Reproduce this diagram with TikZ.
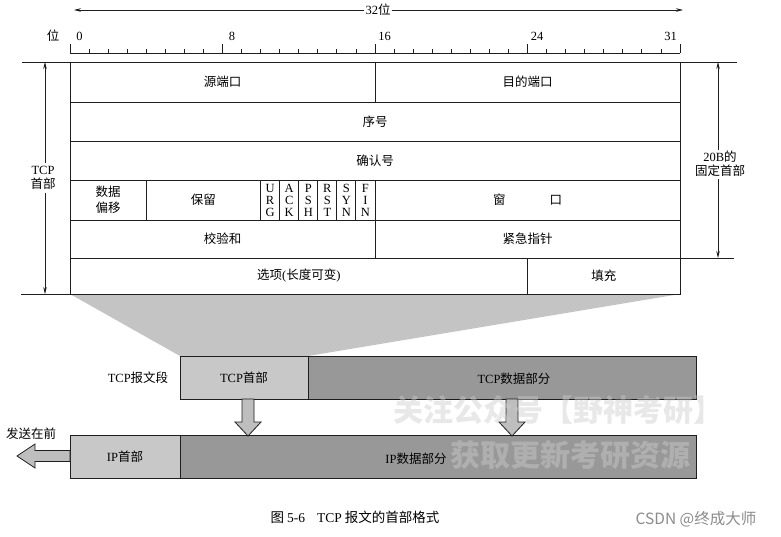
\documentclass[tikz,border=0pt]{standalone}
\usepackage{fontspec}
\setmainfont{Liberation Serif}
\newfontfamily\cjk{Noto Sans CJK SC}
\newfontfamily\lat{Liberation Serif}
\usetikzlibrary{arrows.meta,calc,backgrounds}
\definecolor{linec}{RGB}{30,30,30}
\definecolor{trapc}{RGB}{196,196,196}
\definecolor{hdrc}{RGB}{200,200,200}
\definecolor{datac}{RGB}{152,152,152}
\definecolor{arrc}{RGB}{190,190,190}
\definecolor{wmc}{RGB}{205,205,205}
\definecolor{csdnc}{RGB}{140,140,140}
\tikzset{
  field/.style={draw=linec, line width=1pt, inner sep=0pt, outer sep=0pt, anchor=north west,
    font=\cjk\fontsize{12.5}{14}\selectfont, fill=white},
  flagbox/.style={field, font=\lat\fontsize{12.5}{12}\selectfont, align=center},
  txt/.style={inner sep=1pt, font=\cjk\fontsize{12.5}{14}\selectfont, align=center},
  rulelbl/.style={inner sep=0pt, font=\lat\fontsize{12.5}{14}\selectfont},
  thinl/.style={draw=linec, line width=0.8pt},
  dimarrow/.style={draw=linec, line width=0.7pt, -{Stealth[length=7pt,width=3.5pt]}},
  bar/.style={draw=linec, line width=1pt, inner sep=0pt, outer sep=0pt, anchor=north west},
  blk/.style={draw=linec, line width=0.8pt, fill=arrc},
  wm/.style={inner sep=0pt, font=\cjk\bfseries\fontsize{30}{32}\selectfont, text=wmc, text opacity=0.45},
  downblk/.pic={\filldraw[blk] (-6,0) -- (-6,23) -- (-13,23) -- (0,37) -- (13,23) -- (6,23) -- (6,0) -- cycle;}
}
\begin{document}
\begin{tikzpicture}[x=1pt,y=-1pt]
\useasboundingbox (0,0) rectangle (781,536);

% top 32-bit arrow
\node[txt] (w32) at (378,10) {{\lat 32}位};
\coordinate (arrL) at (74,10);
\coordinate (arrR) at (683,10);
\draw[dimarrow] (w32.west) -- (arrL);
\draw[dimarrow] (w32.east) -- (arrR);

% ruler
\node[txt] (wei) at (53,36) {位};
\draw[thinl] (70,53) -- (680,53);
\foreach \i in {0,...,32} { \draw[thinl] ({70+19.0625*\i},53) -- ({70+19.0625*\i},49); }
\foreach \i in {0,8,16,24,32} { \draw[thinl] ({70+19.0625*\i},53) -- ({70+19.0625*\i},44); }
\node[rulelbl] (r0) at (79.5,36) {0};
\node[rulelbl] (r8) at (232,36) {8};
\node[rulelbl] (r16) at (384.5,36) {16};
\node[rulelbl] (r24) at (537,36) {24};
\node[rulelbl] (r31) at (670.5,36) {31};

% header table
\node[field, minimum width=305pt, minimum height=40pt] (src) at (70,62) {源端口};
\node[field, minimum width=305pt, minimum height=40pt] (dst) at (375,62) {目的端口};
\node[field, minimum width=610pt, minimum height=39pt] (seq) at (70,102) {序号};
\node[field, minimum width=610pt, minimum height=39pt] (ackn) at (70,141) {确认号};
\node[field, minimum width=76.25pt, minimum height=40pt, align=center, font=\cjk\fontsize{12.5}{15.5}\selectfont] (off) at (70,180) {数据\\偏移};
\node[field, minimum width=114.375pt, minimum height=40pt] (rsv) at (146.25,180) {保留};
\foreach \i/\t in {0/{U\\R\\G},1/{A\\C\\K},2/{P\\S\\H},3/{R\\S\\T},4/{S\\Y\\N},5/{F\\I\\N}} {
  \node[flagbox, minimum width=19.0625pt, minimum height=40pt] (flag\i) at ({260.625+19.0625*\i},180) {\t};
}
\node[field, minimum width=305pt, minimum height=40pt] (win) at (375,180) {窗\hspace{44pt}口};
\node[field, minimum width=305pt, minimum height=38pt] (chk) at (70,220) {校验和};
\node[field, minimum width=305pt, minimum height=38pt] (urgp) at (375,220) {紧急指针};
\node[field, minimum width=457.5pt, minimum height=36pt] (opt) at (70,258) {选项{\lat (}长度可变{\lat )}};
\node[field, minimum width=152.5pt, minimum height=36pt] (pad) at (527.5,258) {填充};

% left dimension
\coordinate (lt) at (22,62);
\coordinate (lb) at (21,294);
\draw[thinl] (lt) -- (src.north west);
\draw[thinl] (lb) -- (opt.south west);
\node[txt, inner sep=3pt] (tcpl) at (43,178) {{\lat TCP}\\首部};
\coordinate (ltop) at (45,62);
\coordinate (lbot) at (45,294);
\draw[dimarrow] (tcpl.north) ++(2,0) -- (ltop);
\draw[dimarrow] (tcpl.south) ++(2,0) -- (lbot);

% right dimension
\coordinate (rt) at (737,62);
\coordinate (rb) at (734,258);
\draw[thinl] (dst.north east) -- (rt);
\draw[thinl] (urgp.south east) -- (rb);
\node[txt, inner sep=5pt] (fixl) at (720,164) {{\lat 20B}的\\固定首部};
\coordinate (rtop) at (718,62);
\coordinate (rbot) at (718,258);
\draw[dimarrow] (718,150) -- (rtop);
\draw[dimarrow] (718,179) -- (rbot);

% TCP segment bar
\node[txt] (seglbl) at (138,378) {{\lat TCP}报文段};
\node[bar, fill=hdrc, minimum width=128pt, minimum height=43pt, font=\cjk\fontsize{12.5}{14}\selectfont] (tcph) at (180,356) {{\lat TCP}首部};
\node[bar, fill=datac, minimum width=388pt, minimum height=43pt] (tcpd) at (308,356) {};
\node[txt] (tcpdt) at (514,379) {{\lat TCP}数据部分};

% background and trapezoid
\begin{scope}[on background layer]
\fill[white] (0,0) rectangle (781,536);
\fill[trapc] (opt.south west) -- (pad.south east) -- (tcph.north east) -- (tcph.north west) -- cycle;
\end{scope}

% IP bar
\node[bar, fill=hdrc, minimum width=110pt, minimum height=43pt, font=\cjk\fontsize{12.5}{14}\selectfont] (iph) at (70,435) {{\lat IP}首部};
\node[bar, fill=datac, minimum width=516pt, minimum height=43pt] (ipd) at (180,435) {};
\node[txt] (ipdt) at (416,459) {{\lat IP}数据部分};

% block arrows
\pic at (248,399) {downblk};
\pic at (512,399) {downblk};
\filldraw[blk] (iph.west |- 0,450.5) -- (35,450.5) -- (35,444) -- (17,456) -- (35,468) -- (35,461.5) -- (iph.west |- 0,461.5) -- cycle;
\node[txt] (send) at (31,434) {发送在前};

% watermark
\node[wm] (wm1) at (558,410) {关注公众号【野神考研】};
\node[wm] (wm2) at (570,455) {获取更新考研资源};

% caption
\node[inner sep=0pt, font=\cjk\fontsize{13.5}{15}\selectfont] (cap) at (355,517) {图 {\lat 5-6}\hspace{12pt}{\lat TCP} 报文的首部格式};
\node[inner sep=0pt, font=\cjk\fontsize{15.5}{17}\selectfont, text=csdnc] (csdn) at (696,519) {CSDN @终成大师};
\end{tikzpicture}
\end{document}
